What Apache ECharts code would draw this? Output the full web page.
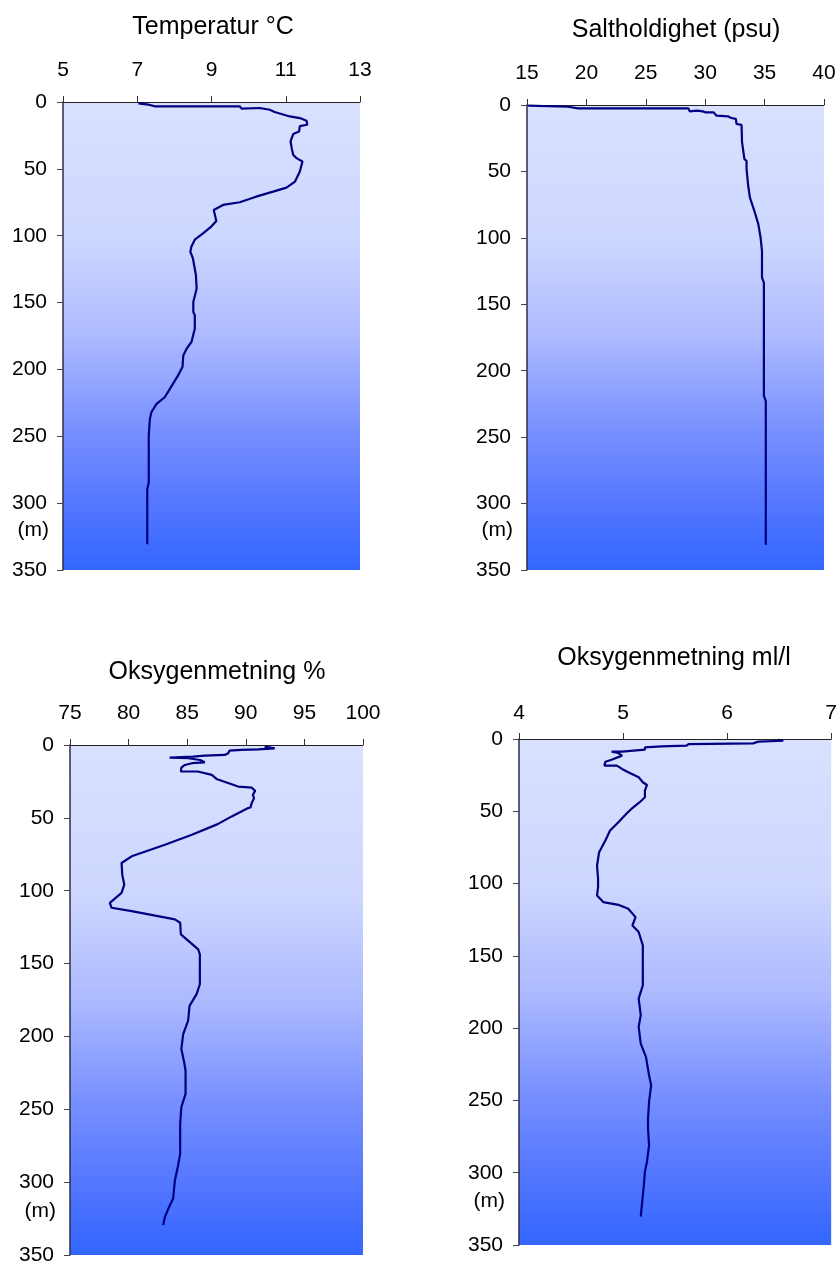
<!DOCTYPE html>
<html>
<head>
<meta charset="utf-8">
<script src="https://cdn.jsdelivr.net/npm/echarts@6/dist/echarts.min.js"></script>
<style>
  html, body { margin: 0; padding: 0; background: #fff; }
  #chart { width: 840px; height: 1266px; }
</style>
</head>
<body>
<div id="chart"></div>
<script>
// profiler, dyp i meter
var tempDepth = [1, 2, 3.2, 3.2, 5, 4.5, 5.8, 7.5, 10.8, 12, 14, 17, 18, 22, 24, 29.5, 34.5, 39.5, 42, 44.5, 52, 59.5, 64, 67, 70.8, 75, 77, 80.8, 89, 93, 98, 103, 108, 112, 117, 129.5, 139.5, 149.5, 157, 159.5, 169.5, 179.5, 184.5, 189.5, 198, 204.5, 214.5, 220.8, 225.8, 232, 237, 249.5, 284.5, 289.5, 330.8];
var tempValue = [7.03, 7.3, 7.47, 9.76, 9.81, 10.3, 10.57, 10.7, 11.11, 11.38, 11.56, 11.58, 11.38, 11.36, 11.2, 11.13, 11.16, 11.2, 11.29, 11.45, 11.38, 11.25, 11.02, 10.66, 10.2, 9.76, 9.31, 9.06, 9.13, 9.0, 8.78, 8.55, 8.46, 8.43, 8.5, 8.58, 8.6, 8.51, 8.51, 8.55, 8.55, 8.46, 8.33, 8.24, 8.22, 8.1, 7.88, 7.74, 7.52, 7.38, 7.34, 7.31, 7.31, 7.27, 7.27];

var saltDepth = [0.5, 1.3, 2.5, 2.5, 3.5, 2.5, 4.8, 4.3, 4.8, 5.5, 5.5, 8, 8.5, 9.8, 10.5, 14.3, 15, 28, 29.4, 40.7, 42, 48, 49.5, 60.8, 69.6, 80.9, 89.7, 99.7, 109.8, 130, 133.7, 219, 222.9, 331];
var saltValue = [15.1, 18.45, 19.3, 27.44, 27.6, 28.57, 28.7, 29.3, 29.8, 30.0, 30.7, 30.96, 31.9, 32.2, 32.58, 32.64, 33.06, 33.1, 33.26, 33.3, 33.48, 33.48, 33.62, 33.62, 33.76, 34.18, 34.47, 34.66, 34.78, 34.78, 34.94, 34.94, 35.1, 35.1];

var oxyPctDepth = [1.1, 2.3, 3, 3.4, 3.9, 5.7, 6.8, 7.3, 8, 8.7, 9.1, 10.3, 11.9, 12.5, 13.7, 15.5, 18.2, 18.2, 20.5, 23.3, 28.5, 29.2, 31.5, 34.2, 36.5, 39.9, 42.9, 43.3, 49, 54.3, 61.6, 68.4, 76.4, 81, 89, 95.8, 101.5, 108.3, 111.7, 114, 119.7, 122, 130, 140.2, 143.6, 164.2, 171, 179, 189.2, 198.4, 208.6, 217.7, 223.4, 239.4, 248.5, 260, 280.4, 289.6, 298.7, 311.2, 318, 323.8, 329.5];
var oxyPctValue = [91.6, 92.47, 91.05, 89.6, 88.6, 88.5, 88.2, 86.5, 85.5, 83.5, 85.1, 86.1, 86.5, 85.4, 84.8, 84.5, 84.46, 85.9, 87.1, 87.5, 89.35, 90.5, 90.8, 90.6, 90.7, 90.5, 90.4, 90.2, 88.8, 87.6, 85.4, 83.1, 80.26, 79.4, 79.46, 79.63, 79.4, 78.4, 78.55, 80.26, 83.95, 84.4, 84.46, 85.94, 86.08, 86.08, 85.8, 85.2, 85.08, 84.66, 84.5, 84.74, 84.86, 84.86, 84.5, 84.4, 84.4, 84.2, 83.95, 83.8, 83.4, 83.1, 82.95];

var oxyMlDepth = [0.5, 1.2, 1.8, 3, 3.5, 4.6, 5.1, 5.8, 7.4, 8.7, 8.7, 9.7, 11.5, 14.3, 15.7, 18.4, 18.4, 20.7, 23, 26.5, 29.9, 31.8, 35.7, 40.3, 43.7, 48.4, 51.8, 57.6, 63.3, 70.2, 78.3, 87.5, 96.7, 102.5, 108.2, 112.8, 114.7, 117.4, 123.2, 129, 133.5, 142.8, 170.4, 179.6, 191, 199.2, 210.7, 219.9, 232.6, 239.5, 251, 262.5, 269.4, 280.9, 292.4, 299.3, 308.5, 330.4];
var oxyMlValue = [6.49, 6.54, 6.3, 6.25, 5.63, 5.61, 5.37, 5.21, 5.21, 4.99, 4.89, 4.955, 4.99, 4.89, 4.83, 4.82, 4.94, 4.99, 5.05, 5.15, 5.19, 5.23, 5.21, 5.21, 5.16, 5.08, 5.03, 4.955, 4.875, 4.83, 4.77, 4.75, 4.76, 4.76, 4.75, 4.81, 4.955, 5.05, 5.12, 5.09, 5.15, 5.19, 5.19, 5.15, 5.17, 5.15, 5.17, 5.22, 5.25, 5.27, 5.25, 5.24, 5.24, 5.25, 5.23, 5.21, 5.2, 5.17];

var titles = ['Temperatur °C', 'Saltholdighet (psu)', 'Oksygenmetning %', 'Oksygenmetning ml/l'];
var xMin = [5, 15, 75, 4];
var xMax = [13, 40, 100, 7];
var xStep = [2, 5, 5, 1];
var depthMax = 350;
var depthStep = 50;

// plassering av de fire panelene
var panels = [
  { left: 63, top: 102, width: 297, height: 468, tx: 213, ty: 27, lm: 21 },
  { left: 527, top: 105, width: 297, height: 465, tx: 676, ty: 30, lm: 21 },
  { left: 70, top: 745, width: 293, height: 510, tx: 217, ty: 672, lm: 21 },
  { left: 519, top: 739, width: 313, height: 506, tx: 674, ty: 658, lm: 15 }
];

var profiles = [
  [tempDepth, tempValue],
  [saltDepth, saltValue],
  [oxyPctDepth, oxyPctValue],
  [oxyMlDepth, oxyMlValue]
];

function pairs(depth, value) {
  var out = [];
  for (var i = 0; i < depth.length; i++) out.push([value[i], depth[i]]);
  return out;
}

var font = '"Liberation Sans", Arial, sans-serif';
var bg = new echarts.graphic.LinearGradient(0, 0, 0, 1, [
  { offset: 0, color: 'rgb(217,225,255)' },
  { offset: 0.3, color: 'rgb(205,214,255)' },
  { offset: 0.5, color: 'rgb(172,186,255)' },
  { offset: 0.7, color: 'rgb(120,144,255)' },
  { offset: 0.85, color: 'rgb(86,120,255)' },
  { offset: 1, color: 'rgb(51,102,255)' }
]);

var grids = [], xAxes = [], yAxes = [], series = [], graphics = [];
panels.forEach(function (p, i) {
  grids.push({
    left: p.left, top: p.top, width: p.width, height: p.height,
    show: true, backgroundColor: bg, borderWidth: 0
  });
  xAxes.push({
    type: 'value', gridIndex: i, position: 'top',
    min: xMin[i], max: xMax[i], interval: xStep[i],
    axisLine: { show: true, lineStyle: { color: '#222', width: 1 } },
    axisTick: { show: true, length: 6, lineStyle: { color: '#333' } },
    axisLabel: { margin: p.lm, fontSize: 21, color: '#000', fontFamily: font },
    splitLine: { show: false }
  });
  yAxes.push({
    type: 'value', gridIndex: i, inverse: true,
    min: 0, max: depthMax, interval: depthStep,
    axisLine: { show: true, onZero: false, lineStyle: { color: '#2a2f4a', width: 1.5 } },
    axisTick: { show: true, length: 6, lineStyle: { color: '#444' } },
    axisLabel: { margin: 16, fontSize: 21, color: '#000', fontFamily: font },
    splitLine: { show: false }
  });
  series.push({
    type: 'line', xAxisIndex: i, yAxisIndex: i,
    data: pairs(profiles[i][0], profiles[i][1]),
    showSymbol: false, symbol: 'none',
    lineStyle: { color: '#000080', width: 2.2 },
    animation: false
  });
  graphics.push({
    type: 'text', x: p.tx, y: p.ty,
    style: {
      text: titles[i], font: '25px ' + font, fill: '#000',
      align: 'center', verticalAlign: 'middle',
      textAlign: 'center', textVerticalAlign: 'middle'
    }
  });
});

var chart = echarts.init(document.getElementById('chart'), null, { renderer: 'canvas' });
chart.setOption({
  animation: false,
  grid: grids,
  xAxis: xAxes,
  yAxis: yAxes,
  series: series,
  graphic: graphics
});

// "(m)" ved aksen, rundt 320 m
panels.forEach(function (p, i) {
  var y = chart.convertToPixel({ yAxisIndex: i }, 320);
  graphics.push({
    type: 'text', x: p.left - 14, y: y,
    style: {
      text: '(m)', font: '21px ' + font, fill: '#000',
      align: 'right', verticalAlign: 'middle',
      textAlign: 'right', textVerticalAlign: 'middle'
    }
  });
});
chart.setOption({ graphic: graphics });
</script>
</body>
</html>
